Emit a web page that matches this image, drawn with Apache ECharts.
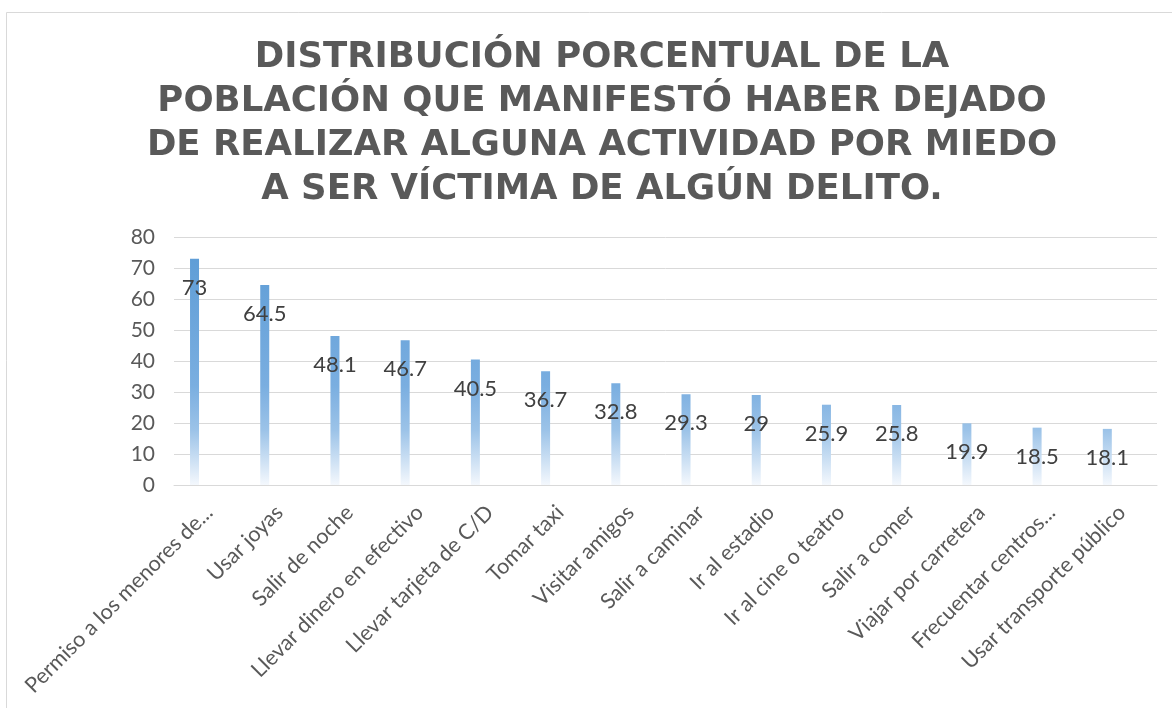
<!DOCTYPE html>
<html>
<head>
<meta charset="utf-8">
<script src="https://cdn.jsdelivr.net/npm/echarts@6/dist/echarts.min.js"></script>
<style>
html,body{margin:0;padding:0;background:#fff;}
#c{width:1172px;height:708px;}
</style>
</head>
<body>
<div id="c"></div>
<script>
const titleLines = [
  'DISTRIBUCIÓN PORCENTUAL DE LA',
  'POBLACIÓN QUE MANIFESTÓ HABER DEJADO',
  'DE REALIZAR ALGUNA ACTIVIDAD POR MIEDO',
  'A SER VÍCTIMA DE ALGÚN DELITO.'
];
const categories = [
  'Permiso a los menores de...',
  'Usar joyas',
  'Salir de noche',
  'Llevar dinero en efectivo',
  'Llevar tarjeta de C/D',
  'Tomar taxi',
  'Visitar amigos',
  'Salir a caminar',
  'Ir al estadio',
  'Ir al cine o teatro',
  'Salir a comer',
  'Viajar por carretera',
  'Frecuentar centros...',
  'Usar transporte público'
];
const values = [73, 64.5, 48.1, 46.7, 40.5, 36.7, 32.8, 29.3, 29, 25.9, 25.8, 19.9, 18.5, 18.1];
const emptySeries = categories.map(() => null);
const yTicks = { min: 0, max: 80, interval: 10 };

const chart = echarts.init(document.getElementById('c'), null, { renderer: 'canvas' });
const gridTop = 237, gridBottom = 223;
const plotBottomY = 708 - gridBottom;
chart.setOption({
  animation: false,
  backgroundColor: '#ffffff',
  graphic: [{
    type: 'rect', silent: true, z: -10,
    shape: { x: 6.5, y: 12.5, width: 1200, height: 720 },
    style: { fill: 'none', stroke: '#D9D9D9', lineWidth: 1 }
  }],
  title: {
    text: titleLines.join('\n'),
    left: 597, top: 31, textAlign: 'center',
    textStyle: {
      fontFamily: 'DejaVu Sans', fontWeight: 'bold', fontSize: 35.5,
      lineHeight: 44, color: '#595959'
    }
  },
  grid: { left: 174, right: 15, top: gridTop, bottom: gridBottom, containLabel: false },
  xAxis: {
    type: 'category', data: categories,
    axisLine: { lineStyle: { color: '#D9D9D9', width: 1 } },
    axisTick: { show: false },
    axisLabel: {
      rotate: 45, interval: 0, margin: 24,
      fontFamily: 'Lato', fontSize: 21.5, color: '#595959'
    }
  },
  yAxis: {
    type: 'value', min: yTicks.min, max: yTicks.max, interval: yTicks.interval,
    axisLine: { show: false }, axisTick: { show: false },
    splitLine: { lineStyle: { color: '#D9D9D9', width: 1 } },
    axisLabel: { margin: 19, fontFamily: 'Lato', fontSize: 21, color: '#595959' }
  },
  series: [{
    type: 'bar', data: values, barWidth: 9, barGap: '224%',
    itemStyle: {
      color: new echarts.graphic.LinearGradient(0, gridTop, 0, plotBottomY, [
        { offset: 0, color: '#5B9BD5' },
        { offset: 0.6, color: '#7AAEE0' },
        { offset: 0.78, color: '#9CC3E8' },
        { offset: 1, color: '#F4F8FD' }
      ], true)
    },
    label: {
      show: true, position: 'insideTop', distance: 18,
      fontFamily: 'Lato', fontSize: 22, color: '#404040'
    }
  }, {
    type: 'bar', data: emptySeries, barWidth: 9
  }]
});
</script>
</body>
</html>
